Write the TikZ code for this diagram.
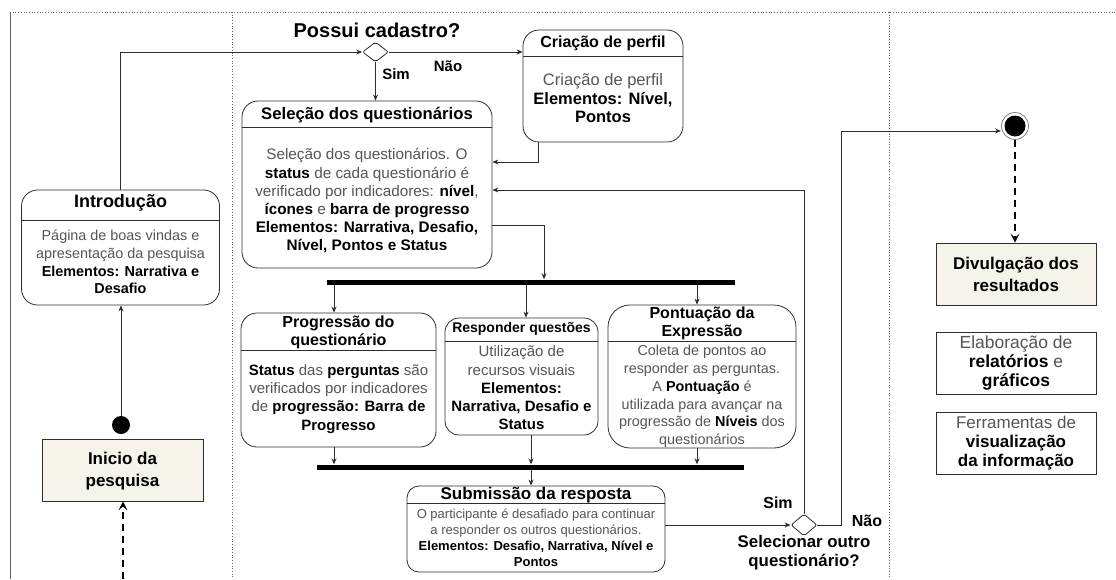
\documentclass[tikz,border=0pt]{standalone}
\usepackage{fontspec}
\setmainfont{Liberation Sans}
\usetikzlibrary{arrows.meta,shapes.geometric}
\definecolor{ink}{RGB}{45,45,45}
\definecolor{txtgray}{RGB}{85,85,85}
\definecolor{beige}{RGB}{246,243,234}
\definecolor{lanegray}{RGB}{100,100,100}
\newcommand\emb[1]{\textcolor{black}{\bfseries #1}}
\begin{document}
\begin{tikzpicture}[x=1pt,y=-1pt,
  act/.style={draw=ink, line width=0.8pt, rounded corners=#1, inner sep=0pt},
  act/.default=16pt,
  plain/.style={draw=ink, line width=0.8pt, inner sep=0pt},
  hdr/.style={draw=ink, line width=0.8pt},
  ttl/.style={font=\bfseries\fontsize{16}{18}\selectfont, text=black, align=center, inner sep=0pt},
  bdy/.style={font=\fontsize{15}{18.2}\selectfont, text=txtgray, align=center, inner sep=0pt},
  lbl/.style={font=\bfseries\fontsize{15}{18}\selectfont, text=black, align=center, inner sep=0pt},
  bar/.style={fill=black, draw=none, minimum height=5pt, inner sep=0pt},
  choice/.style={diamond, draw=ink, line width=0.8pt, fill=white, minimum width=26pt, minimum height=20pt, inner sep=0pt, rounded corners=2pt},
  flow/.style={draw=ink, line width=0.8pt, -{Stealth[length=6pt,width=5pt]}},
  dflow/.style={draw=black, line width=2.4pt, dash pattern=on 7pt off 5pt, -{Stealth[length=9pt,width=9pt,inset=4pt]}},
  lane/.style={draw=lanegray, line width=0.7pt, dotted}
]
\useasboundingbox (0,0) rectangle (1116,579);

% swimlane frame
\draw[lane] (10,12) -- (1116,12);
\draw[draw=lanegray, line width=0.7pt] (10,12) -- (10,579);
\draw[lane] (232,12) -- (232,579);
\draw[lane] (889,12) -- (889,579);

% left lane: start and introduction
\node[plain, fill=beige, minimum width=161pt, minimum height=62pt] (inicio) at (122.5,470) {};
\node[ttl, font=\bfseries\fontsize{17}{22}\selectfont] at (122.5,471) {Inicio da\\pesquisa};
\node[circle, fill=black, minimum size=18pt, inner sep=0pt] (dot) at (121,425) {};
\coordinate (src) at (123,579);

\node[act, minimum width=198pt, minimum height=115pt] (intro) at (120.5,247.5) {};
\node[ttl, font=\bfseries\fontsize{18}{20}\selectfont] at (120.5,203) {Introdução};
\draw[hdr] (intro.west |- 0,220) -- (intro.east |- 0,220);
\node[bdy, font=\fontsize{14.4}{17.8}\selectfont] at (120.5,262) {Página de boas vindas e\\apresentação da pesquisa\\\emb{Elementos: Narrativa e}\\\emb{Desafio}};

% registration decision
\node[choice] (d1) at (375.5,52) {};
\node[ttl, font=\bfseries\fontsize{20}{22}\selectfont] at (377,30) {Possui cadastro?};
\node[lbl] at (396,74) {Sim};
\node[lbl] at (448,66) {Não};

% profile creation
\node[act, minimum width=160pt, minimum height=112pt] (crie) at (603,86) {};
\node[ttl, font=\bfseries\fontsize{16}{18}\selectfont] at (603,43) {Criação de perfil};
\draw[hdr] (crie.west |- 0,56) -- (crie.east |- 0,56);
\node[bdy, font=\fontsize{16.5}{18.5}\selectfont] at (603,98.5) {Criação de perfil\\\emb{Elementos: Nível,}\\\emb{Pontos}};

% questionnaire selection
\node[act, minimum width=250pt, minimum height=167pt] (sel) at (367,184.5) {};
\node[ttl, font=\bfseries\fontsize{16.7}{18}\selectfont] at (367,115) {Seleção dos questionários};
\draw[hdr] (sel.west |- 0,127) -- (sel.east |- 0,127);
\node[bdy, font=\fontsize{15.3}{18.2}\selectfont] at (367,201) {Seleção dos questionários. O\\\emb{status} de cada questionário é\\verificado por indicadores: \emb{nível},\\\emb{ícones} e \emb{barra de progresso}\\\emb{Elementos: Narrativa, Desafio,}\\\emb{Nível, Pontos e Status}};

% fork and join bars
\node[bar, minimum width=408pt] (bar1) at (531,282) {};
\node[bar, minimum width=427pt] (bar2) at (530.5,467) {};

% parallel activities
\node[act, minimum width=195pt, minimum height=134pt] (prog) at (338.5,380) {};
\node[ttl] at (338.5,332) {Progressão do\\questionário};
\draw[hdr] (prog.west |- 0,350) -- (prog.east |- 0,350);
\node[bdy] at (338.5,399) {\emb{Status} das \emb{perguntas} são\\verificados por indicadores\\de \emb{progressão: Barra de}\\\emb{Progresso}};

\node[act=14pt, minimum width=153pt, minimum height=117pt] (resp) at (521.5,376.5) {};
\node[ttl, font=\bfseries\fontsize{14}{17}\selectfont] at (521.5,329) {Responder questões};
\draw[hdr] (resp.west |- 0,341) -- (resp.east |- 0,341);
\node[bdy] at (521.5,388) {Utilização de\\recursos visuais\\\emb{Elementos:}\\\emb{Narrativa, Desafio e}\\\emb{Status}};

\node[act=22pt, minimum width=188pt, minimum height=143pt] (pont) at (702,376.5) {};
\node[ttl] at (702,323) {Pontuação da\\Expressão};
\draw[hdr] (pont.west |- 0,341) -- (pont.east |- 0,341);
\node[bdy, font=\fontsize{14.4}{17.8}\selectfont] at (702,396.5) {Coleta de pontos ao\\responder as perguntas.\\A \emb{Pontuação} é\\utilizada para avançar na\\progressão de \emb{Níveis} dos\\questionários};

% answer submission
\node[act=12pt, minimum width=258pt, minimum height=86pt] (subm) at (536,529) {};
\node[ttl, font=\bfseries\fontsize{17}{20}\selectfont] at (536,495) {Submissão da resposta};
\draw[hdr] (subm.west |- 0,503) -- (subm.east |- 0,503);
\node[bdy, font=\fontsize{13}{16}\selectfont] at (536,538) {O participante é desafiado para continuar\\a responder os outros questionários.\\\emb{Elementos: Desafio, Narrativa, Nível e}\\\emb{Pontos}};

% next questionnaire decision
\node[choice, minimum height=22pt] (d2) at (804,525) {};
\node[lbl, font=\bfseries\fontsize{16}{18}\selectfont] at (778,503) {Sim};
\node[lbl, font=\bfseries\fontsize{16}{18}\selectfont] at (867,521) {Não};
\node[lbl, font=\bfseries\fontsize{16.8}{19}\selectfont] at (804,552.5) {Selecionar outro\\questionário?};

% right lane: end and results
\node[circle, draw=gray, line width=0.8pt, fill=white, minimum size=27pt, inner sep=0pt] (fin) at (1015,126) {};
\node[circle, fill=black, minimum size=21pt, inner sep=0pt] at (fin.center) {};
\coordinate (finin) at (1001,131);
\coordinate (turn) at (841,131);

\node[plain, fill=beige, minimum width=160pt, minimum height=62pt] (divul) at (1016,274) {};
\node[ttl, font=\bfseries\fontsize{17}{22}\selectfont] at (1016,274) {Divulgação dos\\resultados};
\node[plain, minimum width=160pt, minimum height=62pt] (elab) at (1016,363) {};
\node[bdy, font=\fontsize{17.5}{19}\selectfont] at (1016,363) {Elaboração de\\\emb{relatórios} e\\\emb{gráficos}};
\node[plain, minimum width=160pt, minimum height=62pt] (ferr) at (1016,443) {};
\node[bdy, font=\fontsize{17}{19}\selectfont] at (1016,443) {Ferramentas de\\\emb{visualização}\\\emb{da informação}};

% connectors
\draw[dflow] (src) -- (inicio.south -| src);
\draw[flow] (dot.north) -- (intro.south -| dot.north);
\draw[flow] (intro.north) |- (d1.west);
\draw[flow] (d1.east) -- (d1.east -| crie.west);
\draw[flow] (d1.south) -- (d1.south |- sel.north);
\draw[flow] ([xshift=16pt]crie.south west) |- (sel.east |- 0,162);
\draw[flow] (d2.north) |- (sel.east |- 0,190);
\draw[flow] (sel.east |- 0,225) -| (bar1.north -| 544,0);
\draw[flow] (bar1.south -| 334,0) -- (prog.north -| 334,0);
\draw[flow] (bar1.south -| 526,0) -- (resp.north -| 526,0);
\draw[flow] (bar1.south -| 697,0) -- (pont.north -| 697,0);
\draw[flow] (prog.south -| 334,0) -- (bar2.north -| 334,0);
\draw[flow] (resp.south -| 531,0) -- (bar2.north -| 531,0);
\draw[flow] (pont.south -| 697,0) -- (bar2.north -| 697,0);
\draw[flow] (bar2.south -| 531,0) -- (subm.north -| 531,0);
\draw[flow] (subm.east |- d2.west) -- (d2.west);
\draw[flow] (d2.east) -| (turn) -- (finin);
\draw[dflow] (fin.south) -- (divul.north -| fin.south);
\end{tikzpicture}
\end{document}
